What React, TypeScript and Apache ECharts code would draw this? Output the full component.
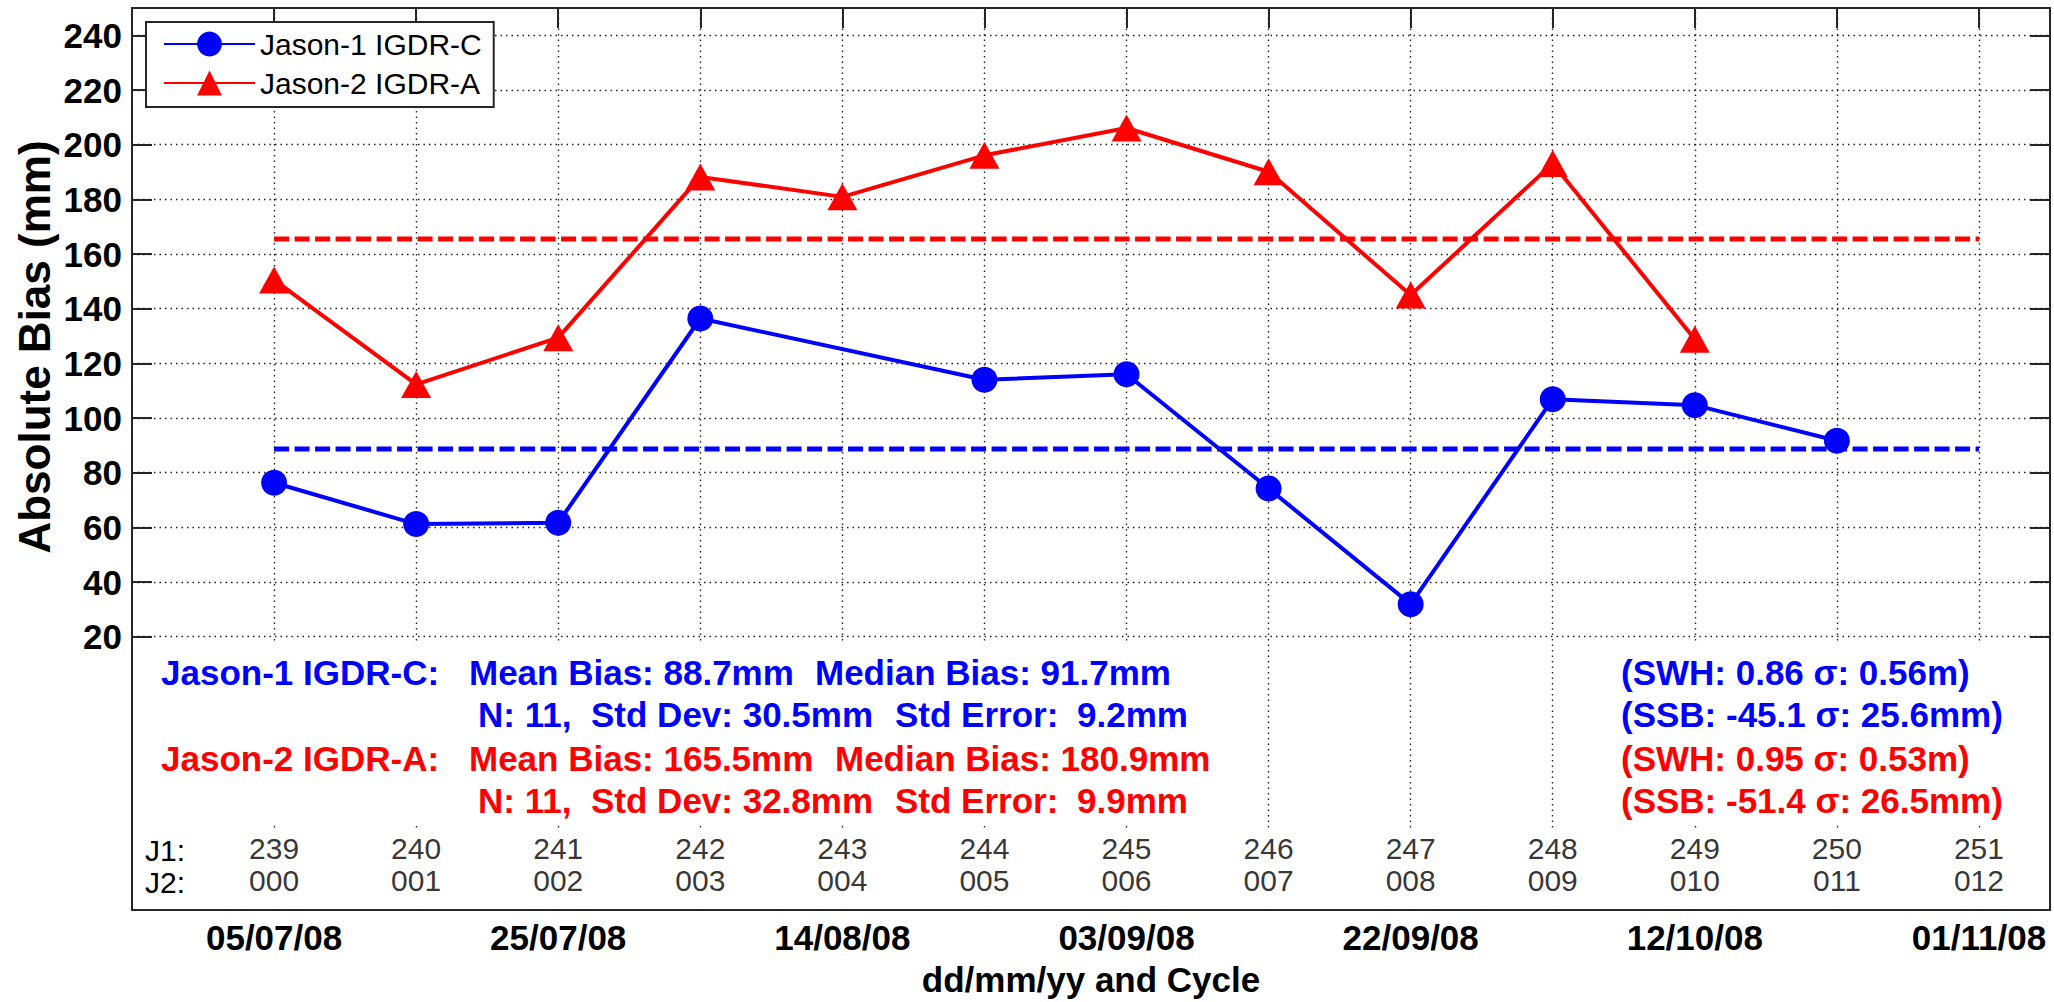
import React, { useEffect, useRef } from "react";
import * as echarts from "echarts";

// ---- data ----
const j1Cycles = [239, 240, 241, 242, 244, 245, 246, 247, 248, 249, 250];
const j1Bias = [76.3, 61.2, 61.7, 136.4, 114.0, 116.0, 74.2, 31.9, 106.9, 104.7, 91.7];
const j2Cycles = [239, 240, 241, 242, 243, 244, 245, 246, 247, 248, 249];
const j2Bias = [150.5, 112.3, 129.4, 188.2, 180.9, 196.1, 206.1, 190.1, 145.0, 193.1, 128.8];
const j1Mean = 88.7;
const j2Mean = 165.5;
const meanSpan = [239, 251];

const cycleTicks = [239, 240, 241, 242, 243, 244, 245, 246, 247, 248, 249, 250, 251];
const j1CycleLabels = ["239", "240", "241", "242", "243", "244", "245", "246", "247", "248", "249", "250", "251"];
const j2CycleLabels = ["000", "001", "002", "003", "004", "005", "006", "007", "008", "009", "010", "011", "012"];
const dateTicks = [239, 241, 243, 245, 247, 249, 251];
const dateLabels = ["05/07/08", "25/07/08", "14/08/08", "03/09/08", "22/09/08", "12/10/08", "01/11/08"];
const yTicks = [20, 40, 60, 80, 100, 120, 140, 160, 180, 200, 220, 240];

const statsJ1 = {
  name: "Jason-1 IGDR-C:",
  mean: "Mean Bias: 88.7mm",
  median: "Median Bias: 91.7mm",
  n: "N: 11,",
  std: "Std Dev: 30.5mm",
  errLabel: "Std Error:",
  err: "9.2mm",
  swh: "(SWH: 0.86 σ: 0.56m)",
  ssb: "(SSB: -45.1 σ: 25.6mm)",
};
const statsJ2 = {
  name: "Jason-2 IGDR-A:",
  mean: "Mean Bias: 165.5mm",
  median: "Median Bias: 180.9mm",
  n: "N: 11,",
  std: "Std Dev: 32.8mm",
  errLabel: "Std Error:",
  err: "9.9mm",
  swh: "(SWH: 0.95 σ: 0.53m)",
  ssb: "(SSB: -51.4 σ: 26.5mm)",
};

const X_MIN = 238;
const X_MAX = 251.5;
const Y_MIN = -80;
const Y_MAX = 250;
const ROW_J1 = -57.5; // cycle-label rows (axis units)
const ROW_J2 = -69.1;

const FONT = "'Liberation Sans', Arial, Helvetica, sans-serif";
const BLUE = "#0000FF";
const RED = "#FF0000";
const AXIS = "#262626";

function txt(text: string, x: number, y: number, color: string, size = 35, weight = "bold", align = "left") {
  return {
    type: "text",
    x,
    y,
    z: 20,
    style: {
      text,
      fill: color,
      font: `${weight} ${size}px ${FONT}`,
      textAlign: align,
      align,
      textVerticalAlign: "middle",
      verticalAlign: "middle",
    },
  };
}

function whiteRect(x: number, y: number, w: number, h: number) {
  return { type: "rect", z: 3, shape: { x, y, width: w, height: h }, style: { fill: "#ffffff" }, silent: true };
}

export default function App() {
  const ref = useRef<HTMLDivElement>(null);

  useEffect(() => {
    document.body.style.margin = "0";
    if (!ref.current) return;
    const chart = echarts.init(ref.current, null, { renderer: "svg" });

    const rows = [672, 714, 758, 800];
    const graphics: any[] = [
      whiteRect(140, 641, 1085, 185),
      whiteRect(1600, 641, 440, 185),
      whiteRect(134, 829, 1914, 80),
      // y-axis title
      {
        type: "text",
        x: 34,
        y: 347,
        rotation: Math.PI / 2,
        z: 20,
        style: {
          text: "Absolute Bias (mm)",
          fill: "#000",
          font: `bold 44px ${FONT}`,
          textAlign: "center",
          align: "center",
          textVerticalAlign: "middle",
          verticalAlign: "middle",
        },
      },
      txt(statsJ1.name, 161, rows[0], BLUE),
      txt(statsJ1.mean, 469, rows[0], BLUE),
      txt(statsJ1.median, 815, rows[0], BLUE),
      txt(statsJ1.n, 478, rows[1], BLUE),
      txt(statsJ1.std, 591, rows[1], BLUE),
      txt(statsJ1.errLabel, 895, rows[1], BLUE),
      txt(statsJ1.err, 1077, rows[1], BLUE),
      txt(statsJ2.name, 161, rows[2], RED),
      txt(statsJ2.mean, 469, rows[2], RED),
      txt(statsJ2.median, 835, rows[2], RED),
      txt(statsJ2.n, 478, rows[3], RED),
      txt(statsJ2.std, 591, rows[3], RED),
      txt(statsJ2.errLabel, 895, rows[3], RED),
      txt(statsJ2.err, 1077, rows[3], RED),
      txt(statsJ1.swh, 1621, rows[0], BLUE),
      txt(statsJ1.ssb, 1621, rows[1], BLUE),
      txt(statsJ2.swh, 1621, rows[2], RED),
      txt(statsJ2.ssb, 1621, rows[3], RED),
      txt("J1:", 145, 850, "#000", 30, "normal"),
      txt("J2:", 145, 882, "#000", 30, "normal"),
    ];

    const cycleLabelSeries = (labels: string[], row: number) => ({
      type: "scatter",
      z: 20,
      silent: true,
      symbol: "circle",
      symbolSize: 1,
      itemStyle: { color: "rgba(0,0,0,0)" },
      label: {
        show: true,
        position: "inside",
        formatter: (p: any) => p.value[2],
        color: "#000",
        fontSize: 30,
        fontFamily: FONT,
        fontWeight: "normal",
      },
      data: labels.map((l, i) => [cycleTicks[i], row, l]),
    });

    const option: any = {
      animation: false,
      backgroundColor: "#ffffff",
      grid: { left: 132, right: 4, top: 8, bottom: 90, containLabel: false },
      legend: {
        data: ["Jason-1 IGDR-C", "Jason-2 IGDR-A"],
        orient: "vertical",
        left: 146,
        top: 22,
        itemWidth: 91,
        itemHeight: 31,
        itemGap: 9,
        padding: [7, 12, 9, 17],
        borderColor: AXIS,
        borderWidth: 2,
        borderRadius: 0,
        backgroundColor: "#ffffff",
        z: 6,
        textStyle: { fontSize: 30, fontFamily: FONT, color: "#000" },
      },
      xAxis: [
        {
          type: "value",
          min: X_MIN,
          max: X_MAX,
          position: "bottom",
          axisLine: { show: true, onZero: false, lineStyle: { color: AXIS, width: 2 } },
          axisTick: { show: false },
          splitLine: { show: false },
          axisLabel: {
            customValues: dateTicks,
            formatter: (v: number) => {
              const i = dateTicks.indexOf(Math.round(v));
              return i >= 0 ? dateLabels[i] : "";
            },
            color: "#000",
            fontSize: 35,
            fontWeight: "bold",
            fontFamily: FONT,
            margin: 10,
          },
          name: "dd/mm/yy and Cycle",
          nameLocation: "middle",
          nameGap: 52,
          nameTextStyle: { color: "#000", fontSize: 35, fontWeight: "bold", fontFamily: FONT },
        },
        {
          type: "value",
          min: X_MIN,
          max: X_MAX,
          position: "top",
          axisLine: { show: true, onZero: false, lineStyle: { color: AXIS, width: 2 } },
          axisTick: { show: true, inside: true, length: 20, customValues: cycleTicks, lineStyle: { color: AXIS, width: 2 } },
          axisLabel: { show: false },
          splitLine: { show: false },
        },
      ],
      yAxis: [
        {
          type: "value",
          min: Y_MIN,
          max: Y_MAX,
          interval: 10,
          position: "left",
          axisLine: { show: true, onZero: false, lineStyle: { color: AXIS, width: 2 } },
          axisTick: { show: true, inside: true, length: 20, customValues: yTicks, lineStyle: { color: AXIS, width: 2 } },
          axisLabel: {
            customValues: yTicks,
            color: "#000",
            fontSize: 35,
            fontWeight: "bold",
            fontFamily: FONT,
            margin: 10,
          },
          splitLine: { show: false },
        },
        {
          type: "value",
          min: Y_MIN,
          max: Y_MAX,
          interval: 10,
          position: "right",
          axisLine: { show: true, onZero: false, lineStyle: { color: AXIS, width: 2 } },
          axisTick: { show: true, inside: true, length: 20, customValues: yTicks, lineStyle: { color: AXIS, width: 2 } },
          axisLabel: { show: false },
          splitLine: { show: false },
        },
      ],
      graphic: { elements: graphics },
      series: [
        {
          name: "J1 mean",
          type: "line",
          z: 2,
          symbol: "none",
          silent: true,
          lineStyle: { color: BLUE, width: 5, type: [15, 5.5] },
          data: meanSpan.map((c) => [c, j1Mean]),
          markLine: {
            silent: true,
            z: 1,
            symbol: ["none", "none"],
            label: { show: false },
            lineStyle: { color: "#222", width: 1.4, type: [1.5, 4] },
            emphasis: { disabled: true },
            data: [
              ...cycleTicks.map((c) => ({ xAxis: c })),
              ...yTicks.map((v) => ({ yAxis: v })),
            ],
          },
        },
        {
          name: "J2 mean",
          type: "line",
          z: 2,
          symbol: "none",
          silent: true,
          lineStyle: { color: RED, width: 5, type: [15, 5.5] },
          data: meanSpan.map((c) => [c, j2Mean]),
        },
        {
          name: "Jason-1 IGDR-C",
          type: "line",
          z: 4,
          symbol: "circle",
          symbolSize: 26,
          lineStyle: { color: BLUE, width: 4 },
          itemStyle: { color: BLUE },
          data: j1Cycles.map((c, i) => [c, j1Bias[i]]),
        },
        {
          name: "Jason-2 IGDR-A",
          type: "line",
          z: 4,
          symbol: "triangle",
          symbolSize: [30, 27],
          lineStyle: { color: RED, width: 4 },
          itemStyle: { color: RED },
          data: j2Cycles.map((c, i) => [c, j2Bias[i]]),
        },
        cycleLabelSeries(j1CycleLabels, ROW_J1),
        cycleLabelSeries(j2CycleLabels, ROW_J2),
      ],
    };

    chart.setOption(option);
    return () => chart.dispose();
  }, []);

  return <div ref={ref} style={{ width: 2054, height: 1002 }} />;
}
